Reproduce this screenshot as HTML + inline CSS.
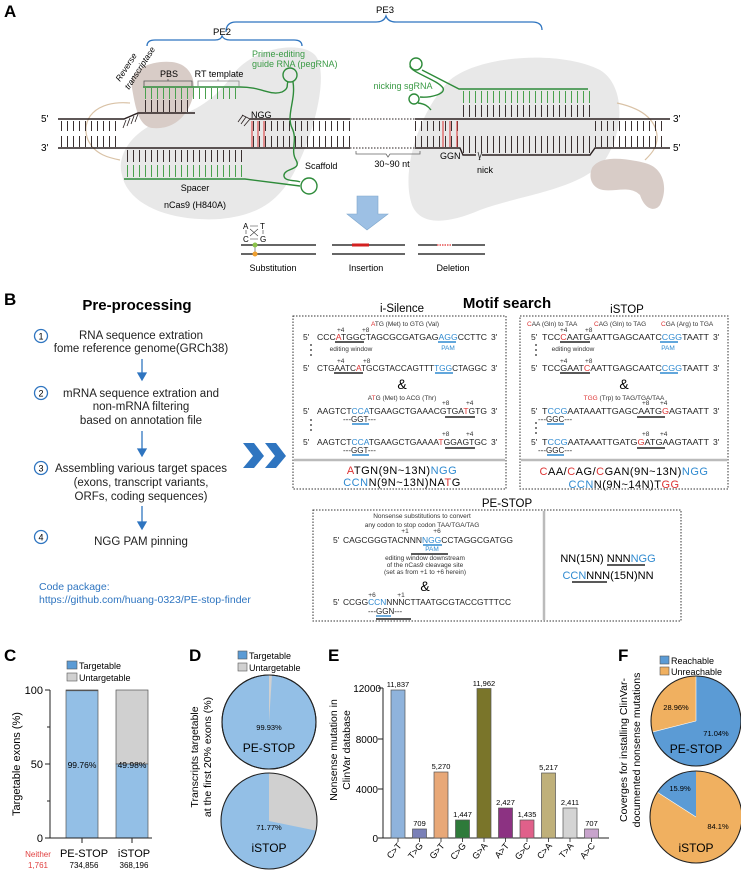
<!DOCTYPE html>
<html><head><meta charset="utf-8"><style>
html,body{margin:0;padding:0;background:#fff}
svg{display:block}
text{font-family:"Liberation Sans",Arial,sans-serif}
</style></head><body>
<svg width="741" height="872" viewBox="0 0 741 872" xmlns="http://www.w3.org/2000/svg">
<defs>
<pattern id="rk" width="6" height="200" patternUnits="userSpaceOnUse"><rect x="1" y="0" width="1" height="200" fill="#3a3030"/></pattern>
<pattern id="rg" width="6" height="200" patternUnits="userSpaceOnUse"><rect x="1" y="0" width="1" height="200" fill="#4aa04e"/></pattern>
</defs>

<!-- ================= PANEL A ================= -->
<text x="4" y="17" font-size="17" font-weight="bold">A</text>
<!-- braces -->
<path d="M226,32 Q226,22 236,22 L376,22 Q384,22 386,16 Q388,22 396,22 L532,22 Q542,22 542,30" fill="none" stroke="#2f75c0" stroke-width="1.3"/>
<text x="385" y="13" font-size="9.5" text-anchor="middle">PE3</text>
<path d="M147,46 Q147,40 155,40 L215,40 Q221,40 222,36 Q224,40 230,40 L294,40 Q302,40 302,46" fill="none" stroke="#2f75c0" stroke-width="1.3"/>
<text x="222" y="35" font-size="9.5" text-anchor="middle">PE2</text>

<!-- gray blobs -->
<path d="M122,175 C115,150 140,125 170,118 C195,112 215,100 235,72 C255,48 300,40 315,55 C328,70 318,120 300,160 C285,195 265,215 220,219 C170,222 128,205 122,175 Z" fill="#e8e8e8"/>
<path d="M412,205 C400,170 420,110 450,80 C480,55 560,50 600,70 C625,85 625,130 605,160 C580,190 520,195 480,210 C445,225 420,225 412,205 Z" fill="#e8e8e8"/>
<!-- tan tethers -->
<path d="M130,103 C95,100 80,120 88,140 C95,155 110,158 120,160" fill="none" stroke="#d9c2a6" stroke-width="1.2"/>
<path d="M617,103 C640,108 655,118 657,135 C658,148 650,155 645,160" fill="none" stroke="#d9c2a6" stroke-width="1.2"/>
<!-- brown blobs -->
<path d="M132,88 C128,70 150,60 172,62 C190,64 198,80 192,100 C186,118 172,130 152,128 C138,126 135,105 132,88 Z" fill="#d8ccc7"/>
<path d="M592,168 C600,155 625,158 645,163 C665,168 668,190 660,205 C655,212 645,210 640,195 C630,185 615,192 603,190 C592,188 588,178 592,168 Z" fill="#d8ccc7"/>

<!-- left duplex -->
<rect x="58" y="121" width="62" height="10" fill="url(#rk)"/>
<rect x="58" y="136" width="62" height="11" fill="url(#rk)"/>
<rect x="250" y="121" width="100" height="10" fill="url(#rk)"/>
<rect x="250" y="136" width="100" height="11" fill="url(#rk)"/>
<rect x="251" y="121" width="15" height="26" fill="#fff" opacity="0"/>
<line x1="252" y1="121" x2="252" y2="147" stroke="#d33" stroke-width="1"/>
<line x1="258" y1="121" x2="258" y2="147" stroke="#d33" stroke-width="1"/>
<line x1="264" y1="121" x2="264" y2="147" stroke="#d33" stroke-width="1"/>
<path d="M58,119 L124,119 L138,113 L195,113" fill="none" stroke="#2a2020" stroke-width="1.4"/>
<path d="M126,120 l-3,8 M130,118 l-3,8 M134,116 l-3,8 M138,114 l-3,8" stroke="#2a2020" stroke-width="0.8"/>
<path d="M250,119 L350,119" stroke="#2a2020" stroke-width="1.4"/>
<path d="M250,119 l-8,-4 M250,119 l-6,7 M246,117 l-5,7 M243,115 l-5,7" stroke="#2a2020" stroke-width="0.8"/>
<path d="M58,148 L350,148" stroke="#2a2020" stroke-width="1.4"/>
<path d="M350,119 L415,119 M350,148 L415,148" stroke="#2a2020" stroke-width="1" stroke-dasharray="1.5,1.5"/>
<!-- PBS region -->
<rect x="143" y="100" width="50" height="12" fill="url(#rk)"/>
<rect x="143" y="88" width="98" height="11" fill="url(#rg)"/>
<path d="M143,87 L240,87 C262,87 270,96 282,92 C290,88 286,84 288,82" fill="none" stroke="#2e8b3a" stroke-width="1.4"/>
<circle cx="290" cy="75" r="7" fill="none" stroke="#2e8b3a" stroke-width="1.4"/>
<path d="M293,82 C296,100 286,115 292,128 C298,140 290,150 296,160 C302,170 285,168 284,175 C283,182 298,180 300,182" fill="none" stroke="#2e8b3a" stroke-width="1.4"/>
<!-- spacer -->
<rect x="124" y="150" width="122" height="12" fill="url(#rk)"/>
<rect x="124" y="165" width="122" height="12" fill="url(#rg)"/>
<path d="M124,179 L245,179 L300,186" fill="none" stroke="#2e8b3a" stroke-width="1.4"/>
<circle cx="309" cy="186" r="8" fill="none" stroke="#2e8b3a" stroke-width="1.4"/>
<!-- PBS/RT braces -->
<path d="M144,86 L144,81 L192,81 L192,86 M168,81 L168,79" fill="none" stroke="#555" stroke-width="0.8"/>
<path d="M198,86 L198,81 L239,81 L239,86 M218,81 L218,79" fill="none" stroke="#888" stroke-width="0.8"/>
<text x="169" y="77" font-size="9" text-anchor="middle">PBS</text>
<text x="219" y="77" font-size="9" text-anchor="middle">RT template</text>
<text transform="translate(120,82) rotate(-57)" font-size="8.5" font-style="italic">Reverse</text>
<text transform="translate(129,90) rotate(-57)" font-size="8.5" font-style="italic">transcriptase</text>
<text x="252" y="57" font-size="9" fill="#3a9a45">Prime-editing</text>
<text x="252" y="67" font-size="9" fill="#3a9a45">guide RNA (pegRNA)</text>
<text x="251" y="118" font-size="9">NGG</text>
<text x="305" y="169" font-size="9">Scaffold</text>
<text x="195" y="191" font-size="9" text-anchor="middle">Spacer</text>
<text x="195" y="208" font-size="9" text-anchor="middle">nCas9 (H840A)</text>
<path d="M356,151 L356,154 L386,154 L388,157 L390,154 L420,154 L420,151" fill="none" stroke="#666" stroke-width="0.8"/>
<text x="392" y="167" font-size="9" text-anchor="middle">30~90 nt</text>

<!-- right duplex -->
<rect x="415" y="121" width="46" height="10" fill="url(#rk)"/>
<rect x="415" y="136" width="46" height="11" fill="url(#rk)"/>
<rect x="592" y="121" width="72" height="10" fill="url(#rk)"/>
<rect x="592" y="136" width="72" height="11" fill="url(#rk)"/>
<rect x="462" y="136" width="128" height="17" fill="url(#rk)"/>
<line x1="443" y1="121" x2="443" y2="147" stroke="#d33"/>
<line x1="450" y1="121" x2="450" y2="147" stroke="#d33"/>
<line x1="457" y1="121" x2="457" y2="147" stroke="#d33"/>
<rect x="462" y="105" width="128" height="12" fill="url(#rk)"/>
<rect x="462" y="91" width="128" height="12" fill="url(#rg)"/>
<path d="M415,119 L670,119" stroke="#2a2020" stroke-width="1.4"/>
<path d="M415,148 L460,148 L463,155 L476,155 M482,155 L590,155 L595,148 L670,148" fill="none" stroke="#2a2020" stroke-width="1.4"/>
<path d="M588,89 L459,89 L422,70" fill="none" stroke="#2e8b3a" stroke-width="1.4"/>
<circle cx="416" cy="64" r="6" fill="none" stroke="#2e8b3a" stroke-width="1.4"/>
<path d="M410,66 C410,72 438,80 443,88 C446,94 430,98 420,97" fill="none" stroke="#2e8b3a" stroke-width="1.4"/>
<circle cx="414" cy="99" r="5" fill="none" stroke="#2e8b3a" stroke-width="1.4"/>
<path d="M418,103 C425,104 428,106 431,110" fill="none" stroke="#2e8b3a" stroke-width="1.4"/>
<text x="403" y="89" font-size="9" fill="#3a9a45" text-anchor="middle">nicking sgRNA</text>
<text x="440" y="159" font-size="9">GGN</text>
<path d="M478,152 l2,8 M482,152 l-3,8" stroke="#333" stroke-width="0.8"/>
<text x="477" y="173" font-size="9">nick</text>
<text x="41" y="122" font-size="10">5'</text>
<text x="41" y="151" font-size="10">3'</text>
<text x="673" y="122" font-size="10">3'</text>
<text x="673" y="151" font-size="10">5'</text>

<!-- blue arrow -->
<path d="M357,196 L378,196 L378,214 L388,214 L367,230 L347,214 L357,214 Z" fill="#9dc0e4" stroke="#7ea6cc" stroke-width="0.6"/>
<!-- outcomes -->
<text x="243" y="229" font-size="8">A</text><text x="260" y="229" font-size="8">T</text>
<text x="243" y="242" font-size="8">C</text><text x="260" y="242" font-size="8">G</text>
<path d="M250,226 L258,226 M250,239 L258,239 M246,230 L246,234 M263,230 L263,234 M250,229 L258,236 M258,229 L250,236" stroke="#333" stroke-width="0.6"/>
<line x1="241" y1="245" x2="316" y2="245" stroke="#333" stroke-width="1.6"/>
<line x1="241" y1="254" x2="316" y2="254" stroke="#333" stroke-width="1.6"/>
<line x1="255" y1="245" x2="255" y2="254" stroke="#888" stroke-width="1"/>
<circle cx="255" cy="245" r="2.5" fill="#8bc34a"/>
<circle cx="255" cy="254" r="2.5" fill="#f0a030"/>
<line x1="332" y1="245" x2="405" y2="245" stroke="#333" stroke-width="1.6"/>
<line x1="332" y1="254" x2="405" y2="254" stroke="#333" stroke-width="1.6"/>
<line x1="352" y1="245" x2="369" y2="245" stroke="#d32020" stroke-width="3"/>
<line x1="418" y1="245" x2="485" y2="245" stroke="#333" stroke-width="1.6"/>
<line x1="418" y1="254" x2="485" y2="254" stroke="#333" stroke-width="1.6"/>
<line x1="437" y1="245" x2="452" y2="245" stroke="#fff" stroke-width="2"/>
<line x1="437" y1="245" x2="452" y2="245" stroke="#e03030" stroke-width="1.2" stroke-dasharray="1.5,1"/>
<text x="273" y="271" font-size="9" text-anchor="middle">Substitution</text>
<text x="366" y="271" font-size="9" text-anchor="middle">Insertion</text>
<text x="453" y="271" font-size="9" text-anchor="middle">Deletion</text>

<!-- ================= PANEL B ================= -->
<text x="4" y="305" font-size="17" font-weight="bold">B</text>
<text x="137" y="310" font-size="15" font-weight="bold" text-anchor="middle">Pre-processing</text>
<g fill="none" stroke="#2f75c0" stroke-width="1.3">
<circle cx="41" cy="336" r="6.5"/><circle cx="41" cy="393" r="6.5"/><circle cx="41" cy="468" r="6.5"/><circle cx="41" cy="537" r="6.5"/>
</g>
<g font-size="9" text-anchor="middle"><text x="41" y="339.5">1</text><text x="41" y="396.5">2</text><text x="41" y="471.5">3</text><text x="41" y="540.5">4</text></g>
<g font-size="11.5" text-anchor="middle" fill="#222">
<text x="141" y="339">RNA sequence extration</text>
<text x="141" y="352">fome reference genome(GRCh38)</text>
<text x="141" y="397">mRNA sequence extration and</text>
<text x="141" y="410">non-mRNA filtering</text>
<text x="141" y="424">based on annotation file</text>
<text x="141" y="472">Assembling various target spaces</text>
<text x="141" y="486">(exons, transcript variants,</text>
<text x="141" y="500">ORFs, coding sequences)</text>
<text x="141" y="545">NGG PAM pinning</text>
</g>
<g stroke="#2f75c0" stroke-width="1.3" fill="#2f75c0">
<line x1="142" y1="359" x2="142" y2="376"/><path d="M138,373 L142,380 L146,373 Z"/>
<line x1="142" y1="431" x2="142" y2="452"/><path d="M138,449 L142,456 L146,449 Z"/>
<line x1="142" y1="506" x2="142" y2="525"/><path d="M138,522 L142,529 L146,522 Z"/>
</g>
<text x="39" y="590" font-size="10.5" fill="#2f75c0">Code package:</text>
<text x="39" y="603" font-size="10.5" fill="#2f75c0">https://github.com/huang-0323/PE-stop-finder</text>
<path d="M243,443 L254,443 L264,456 L254,468 L243,468 L253,456 Z" fill="#2f75c0"/>
<path d="M265,443 L276,443 L286,456 L276,468 L265,468 L275,456 Z" fill="#2f75c0"/>

<text x="507" y="308" font-size="15" font-weight="bold" text-anchor="middle">Motif search</text>
<text x="402" y="312" font-size="11.5" text-anchor="middle">i-Silence</text>
<text x="627" y="313" font-size="11.5" text-anchor="middle">iSTOP</text>

<!-- i-Silence box -->
<rect x="293" y="316" width="213" height="173" fill="none" stroke="#333" stroke-width="1" stroke-dasharray="1.5,1.5"/>
<line x1="294" y1="460" x2="505" y2="460" stroke="#bbb" stroke-width="2.5"/>
<g font-size="6.5" fill="#333">
<text x="405" y="326" text-anchor="middle"><tspan fill="#d33">A</tspan>TG (Met) to GTG (Val)</text>
<text x="337" y="332">+4</text><text x="362" y="332">+8</text>
<text x="351" y="351" text-anchor="middle">editing window</text>
<text x="448" y="350" text-anchor="middle" fill="#2f8ad0">PAM</text>
<text x="337" y="363">+4</text><text x="363" y="363">+8</text>
<text x="402" y="400" text-anchor="middle">A<tspan fill="#d33">T</tspan>G (Met) to ACG (Thr)</text>
<text x="442" y="405">+8</text><text x="466" y="405">+4</text>
<text x="442" y="436">+8</text><text x="466" y="436">+4</text>
</g>
<g font-size="8.5" fill="#222">
<text x="303" y="340">5'</text><text x="491" y="340">3'</text>
<text x="317" y="340" textLength="170" lengthAdjust="spacingAndGlyphs">CCC<tspan fill="#d33">A</tspan>TGGCTAGCGCGATGAG<tspan fill="#2f8ad0">AGG</tspan>CCTTC</text>
<text x="303" y="371">5'</text><text x="491" y="371">3'</text>
<text x="317" y="371" textLength="170" lengthAdjust="spacingAndGlyphs">CTGAATC<tspan fill="#d33">A</tspan>TGCGTACCAGTTT<tspan fill="#2f8ad0">TGG</tspan>CTAGGC</text>
<text x="303" y="414">5'</text><text x="491" y="414">3'</text>
<text x="317" y="414" textLength="170" lengthAdjust="spacingAndGlyphs">AAGTCT<tspan fill="#2f8ad0">CCA</tspan>TGAAGCTGAAACGTGA<tspan fill="#d33">T</tspan>GTG</text>
<text x="303" y="445">5'</text><text x="491" y="445">3'</text>
<text x="317" y="445" textLength="170" lengthAdjust="spacingAndGlyphs">AAGTCT<tspan fill="#2f8ad0">CCA</tspan>TGAAGCTGAAAA<tspan fill="#d33">T</tspan>GGAGTGC</text>
<text x="343" y="422" font-size="8">---<tspan fill="#222">GGT</tspan>---</text>
<text x="343" y="453" font-size="8">---GGT---</text>
</g>
<g stroke="#222" stroke-width="1.6">
<line x1="335" y1="342" x2="364" y2="342"/><line x1="334" y1="373" x2="363" y2="373"/>
<line x1="445" y1="417" x2="475" y2="417"/><line x1="445" y1="448" x2="475" y2="448"/>
</g>
<g stroke="#2f8ad0" stroke-width="1.4">
<line x1="438" y1="342" x2="456" y2="342"/><line x1="435" y1="373" x2="453" y2="373"/>
<line x1="352" y1="424" x2="369" y2="424"/><line x1="352" y1="455" x2="369" y2="455"/>
</g>
<g fill="#222"><circle cx="311" cy="345" r="0.9"/><circle cx="311" cy="350" r="0.9"/><circle cx="311" cy="355" r="0.9"/>
<circle cx="311" cy="420" r="0.9"/><circle cx="311" cy="425" r="0.9"/><circle cx="311" cy="430" r="0.9"/></g>
<text x="402" y="389" font-size="14" text-anchor="middle">&amp;</text>
<text x="402" y="474" font-size="11" text-anchor="middle" letter-spacing="0.5"><tspan fill="#d33">A</tspan>TGN(9N~13N)<tspan fill="#2f8ad0">NGG</tspan></text>
<text x="402" y="486" font-size="11" text-anchor="middle" letter-spacing="0.5"><tspan fill="#2f8ad0">CCN</tspan>N(9N~13N)NA<tspan fill="#d33">T</tspan>G</text>

<!-- iSTOP box -->
<rect x="520" y="316" width="208" height="173" fill="none" stroke="#333" stroke-width="1" stroke-dasharray="1.5,1.5"/>
<line x1="521" y1="460" x2="727" y2="460" stroke="#bbb" stroke-width="2.5"/>
<g font-size="6.5" fill="#333">
<text x="527" y="326"><tspan fill="#d33">C</tspan>AA (Gln) to TAA</text>
<text x="594" y="326"><tspan fill="#d33">C</tspan>AG (Gln) to TAG</text>
<text x="661" y="326"><tspan fill="#d33">C</tspan>GA (Arg) to TGA</text>
<text x="560" y="332">+4</text><text x="585" y="332">+8</text>
<text x="573" y="351" text-anchor="middle">editing window</text>
<text x="668" y="350" text-anchor="middle" fill="#2f8ad0">PAM</text>
<text x="560" y="363">+4</text><text x="585" y="363">+8</text>
<text x="624" y="400" text-anchor="middle"><tspan fill="#d33">TGG</tspan> (Trp) to TAG/TGA/TAA</text>
<text x="642" y="405">+8</text><text x="660" y="405">+4</text>
<text x="642" y="436">+8</text><text x="660" y="436">+4</text>
</g>
<g font-size="8.5" fill="#222">
<text x="531" y="340">5'</text><text x="713" y="340">3'</text>
<text x="542" y="340" textLength="167" lengthAdjust="spacingAndGlyphs">TCC<tspan fill="#d33">C</tspan>AATGAATTGAGCAATC<tspan fill="#2f8ad0">CGG</tspan>TAATT</text>
<text x="531" y="371">5'</text><text x="713" y="371">3'</text>
<text x="542" y="371" textLength="167" lengthAdjust="spacingAndGlyphs">TCCGAAT<tspan fill="#d33">C</tspan>AATTGAGCAATC<tspan fill="#2f8ad0">CGG</tspan>TAATT</text>
<text x="531" y="414">5'</text><text x="713" y="414">3'</text>
<text x="542" y="414" textLength="167" lengthAdjust="spacingAndGlyphs">T<tspan fill="#2f8ad0">CCG</tspan>AATAAATTGAGCAATG<tspan fill="#d33">G</tspan>AGTAATT</text>
<text x="531" y="445">5'</text><text x="713" y="445">3'</text>
<text x="542" y="445" textLength="167" lengthAdjust="spacingAndGlyphs">T<tspan fill="#2f8ad0">CCG</tspan>AATAAATTGATG<tspan fill="#d33">G</tspan>ATGAAGTAATT</text>
<text x="538" y="422" font-size="8">---GGC---</text>
<text x="538" y="453" font-size="8">---GGC---</text>
</g>
<g stroke="#222" stroke-width="1.6">
<line x1="560" y1="342" x2="590" y2="342"/><line x1="560" y1="373" x2="590" y2="373"/>
<line x1="637" y1="417" x2="665" y2="417"/><line x1="637" y1="448" x2="665" y2="448"/>
</g>
<g stroke="#2f8ad0" stroke-width="1.4">
<line x1="660" y1="342" x2="678" y2="342"/><line x1="660" y1="373" x2="678" y2="373"/>
<line x1="547" y1="424" x2="564" y2="424"/><line x1="547" y1="455" x2="564" y2="455"/>
</g>
<g fill="#222"><circle cx="536" cy="345" r="0.9"/><circle cx="536" cy="350" r="0.9"/><circle cx="536" cy="355" r="0.9"/>
<circle cx="536" cy="423" r="0.9"/><circle cx="536" cy="428" r="0.9"/><circle cx="536" cy="433" r="0.9"/></g>
<text x="624" y="389" font-size="14" text-anchor="middle">&amp;</text>
<text x="624" y="475" font-size="11" text-anchor="middle" letter-spacing="0.5"><tspan fill="#d33">C</tspan>AA/<tspan fill="#d33">C</tspan>AG/<tspan fill="#d33">C</tspan>GAN(9N~13N)<tspan fill="#2f8ad0">NGG</tspan></text>
<text x="624" y="488" font-size="11" text-anchor="middle" letter-spacing="0.5"><tspan fill="#2f8ad0">CCN</tspan>N(9N~14N)T<tspan fill="#d33">GG</tspan></text>

<!-- PE-STOP box -->
<text x="507" y="507" font-size="11.5" text-anchor="middle">PE-STOP</text>
<rect x="313" y="510" width="368" height="111" fill="none" stroke="#333" stroke-width="1" stroke-dasharray="1.5,1.5"/>
<line x1="544" y1="511" x2="544" y2="620" stroke="#bbb" stroke-width="2.5"/>
<g font-size="6.5" fill="#333" text-anchor="middle">
<text x="422" y="518">Nonsense substitutions to convert</text>
<text x="422" y="527">any codon to stop codon TAA/TGA/TAG</text>
<text x="405" y="533">+1</text><text x="437" y="533">+6</text>
<text x="432" y="551" fill="#2f8ad0">PAM</text>
<text x="425" y="560">editing window downstream</text>
<text x="425" y="567">of the nCas9 cleavage site</text>
<text x="425" y="574">(set as from +1 to +6 herein)</text>
<text x="372" y="597">+6</text><text x="401" y="597">+1</text>
</g>
<g font-size="8.5" fill="#222">
<text x="333" y="543">5'</text>
<text x="343" y="543" textLength="170" lengthAdjust="spacingAndGlyphs">CAGCGGGTACNNN<tspan fill="#2f8ad0">NGG</tspan>CCTAGGCGATGG</text>
<text x="333" y="605">5'</text>
<text x="343" y="605" textLength="168" lengthAdjust="spacingAndGlyphs">CCGG<tspan fill="#2f8ad0">CCN</tspan>NNNCTTAATGCGTACCGTTTCC</text>
<text x="368" y="614" font-size="8">---GGN---</text>
</g>
<line x1="423" y1="545" x2="442" y2="545" stroke="#2f8ad0" stroke-width="1.4"/>
<line x1="411" y1="554" x2="448" y2="554" stroke="#222" stroke-width="1.6"/>
<line x1="376" y1="616" x2="391" y2="616" stroke="#2f8ad0" stroke-width="1.4"/>
<line x1="376" y1="619" x2="411" y2="619" stroke="#222" stroke-width="1.6"/>
<text x="425" y="591" font-size="14" text-anchor="middle">&amp;</text>
<text x="608" y="562" font-size="11" text-anchor="middle">NN(15N) NNN<tspan fill="#2f8ad0">NGG</tspan></text>
<text x="608" y="579" font-size="11" text-anchor="middle"><tspan fill="#2f8ad0">CCN</tspan>NNN(15N)NN</text>
<line x1="607" y1="565" x2="645" y2="565" stroke="#222" stroke-width="1.6"/>
<line x1="572" y1="582" x2="607" y2="582" stroke="#222" stroke-width="1.6"/>

<!-- ================= PANEL C ================= -->
<text x="4" y="661" font-size="17" font-weight="bold">C</text>
<rect x="67" y="661" width="10" height="8" fill="#5b9bd5" stroke="#555" stroke-width="0.6"/>
<text x="79" y="669" font-size="9">Targetable</text>
<rect x="67" y="673" width="10" height="8" fill="#d0d0d0" stroke="#555" stroke-width="0.6"/>
<text x="79" y="681" font-size="9">Untargetable</text>
<rect x="66" y="690" width="32" height="148" fill="#93bfe6" stroke="#555" stroke-width="0.7"/>
<line x1="66" y1="690.5" x2="98" y2="690.5" stroke="#555" stroke-width="1.2"/>
<rect x="116" y="690" width="32" height="74" fill="#d0d0d0" stroke="#555" stroke-width="0.7"/>
<rect x="116" y="764" width="32" height="74" fill="#93bfe6" stroke="#555" stroke-width="0.7"/>
<path d="M50,690 L50,838 L152,838 M45,690 L50,690 M45,764 L50,764 M45,838 L50,838 M47,727 L50,727 M47,801 L50,801 M82,838 L82,843 M132,838 L132,843" fill="none" stroke="#222" stroke-width="1"/>
<g font-size="11" text-anchor="end"><text x="43" y="694">100</text><text x="43" y="768">50</text><text x="43" y="842">0</text></g>
<text transform="translate(20,764) rotate(-90)" font-size="11" text-anchor="middle">Targetable exons (%)</text>
<text x="82" y="768" font-size="8.5" text-anchor="middle">99.76%</text>
<text x="132" y="768" font-size="8.5" text-anchor="middle">49.98%</text>
<text x="84" y="857" font-size="11" text-anchor="middle">PE-STOP</text>
<text x="134" y="857" font-size="11" text-anchor="middle">iSTOP</text>
<text x="84" y="868" font-size="8" text-anchor="middle">734,856</text>
<text x="134" y="868" font-size="8" text-anchor="middle">368,196</text>
<text x="38" y="857" font-size="8" fill="#e04040" text-anchor="middle">Neither</text>
<text x="38" y="868" font-size="8" fill="#e04040" text-anchor="middle">1,761</text>

<!-- ================= PANEL D ================= -->
<text x="189" y="661" font-size="17" font-weight="bold">D</text>
<rect x="238" y="651" width="9" height="8" fill="#5b9bd5" stroke="#555" stroke-width="0.6"/>
<text x="249" y="659" font-size="9">Targetable</text>
<rect x="238" y="663" width="9" height="8" fill="#d0d0d0" stroke="#555" stroke-width="0.6"/>
<text x="249" y="671" font-size="9">Untargetable</text>
<text transform="translate(198,757) rotate(-90)" font-size="10.5" text-anchor="middle">Transcripts targetable</text>
<text transform="translate(211,757) rotate(-90)" font-size="10.5" text-anchor="middle">at the first 20% exons (%)</text>
<circle cx="269" cy="722" r="47" fill="#93bfe6" stroke="#222" stroke-width="1.1"/>
<path d="M269,722 L269,675 A47,47 0 0 1 272,675.1 Z" fill="#d0d0d0"/>
<circle cx="269" cy="722" r="47" fill="none" stroke="#222" stroke-width="1.1"/>
<text x="269" y="730" font-size="7.5" text-anchor="middle">99.93%</text>
<text x="269" y="752" font-size="12" text-anchor="middle">PE-STOP</text>
<circle cx="269" cy="821" r="48" fill="#93bfe6"/>
<path d="M269,821 L269,773 A48,48 0 0 1 316,830.6 Z" fill="#d0d0d0"/>
<circle cx="269" cy="821" r="48" fill="none" stroke="#222" stroke-width="1.1"/>
<text x="269" y="830" font-size="7.5" text-anchor="middle">71.77%</text>
<text x="269" y="852" font-size="12" text-anchor="middle">iSTOP</text>

<!-- ================= PANEL E ================= -->
<text x="328" y="661" font-size="17" font-weight="bold">E</text>
<text transform="translate(337,750) rotate(-90)" font-size="10.5" text-anchor="middle">Nonsense mutation in</text>
<text transform="translate(350,750) rotate(-90)" font-size="10.5" text-anchor="middle">ClinVar database</text>
<path d="M383,688 L383,838 L609,838 M378,688 L383,688 M378,739 L383,739 M378,789 L383,789 M378,838 L383,838" fill="none" stroke="#222" stroke-width="1"/>
<g font-size="10" text-anchor="end"><text x="381" y="692">12000</text><text x="378" y="743">8000</text><text x="378" y="793">4000</text><text x="378" y="842">0</text></g>
<g stroke="#555" stroke-width="0.7">
<rect x="391" y="690" width="14" height="148" fill="#8fb3dc"/>
<rect x="412.5" y="829" width="14" height="9" fill="#7a80b8"/>
<rect x="434" y="772" width="14" height="66" fill="#e8a878"/>
<rect x="455.5" y="820" width="14" height="18" fill="#2e7a3a"/>
<rect x="477" y="688.5" width="14" height="149.5" fill="#7a752a"/>
<rect x="498.5" y="808" width="14" height="30" fill="#8c3282"/>
<rect x="520" y="820" width="14" height="18" fill="#e0608a"/>
<rect x="541.5" y="773" width="14" height="65" fill="#bfb07a"/>
<rect x="563" y="808" width="14" height="30" fill="#d4d4d4"/>
<rect x="584.5" y="829" width="14" height="9" fill="#c8a4cc"/>
</g>
<g font-size="7.5" text-anchor="middle">
<text x="398" y="687">11,837</text><text x="419.5" y="826">709</text><text x="441" y="769">5,270</text>
<text x="462.5" y="817">1,447</text><text x="484" y="686">11,962</text><text x="505.5" y="805">2,427</text>
<text x="527" y="817">1,435</text><text x="548.5" y="770">5,217</text><text x="570" y="805">2,411</text>
<text x="591.5" y="826">707</text>
</g>
<g font-size="9" text-anchor="end">
<text transform="translate(402,846) rotate(-50)">C&gt;T</text>
<text transform="translate(423.5,846) rotate(-50)">T&gt;G</text>
<text transform="translate(445,846) rotate(-50)">G&gt;T</text>
<text transform="translate(466.5,846) rotate(-50)">C&gt;G</text>
<text transform="translate(488,846) rotate(-50)">G&gt;A</text>
<text transform="translate(509.5,846) rotate(-50)">A&gt;T</text>
<text transform="translate(531,846) rotate(-50)">G&gt;C</text>
<text transform="translate(552.5,846) rotate(-50)">C&gt;A</text>
<text transform="translate(574,846) rotate(-50)">T&gt;A</text>
<text transform="translate(595.5,846) rotate(-50)">A&gt;C</text>
</g>
<g stroke="#222" stroke-width="0.8"><line x1="398" y1="838" x2="398" y2="842"/><line x1="419.5" y1="838" x2="419.5" y2="842"/><line x1="441" y1="838" x2="441" y2="842"/><line x1="462.5" y1="838" x2="462.5" y2="842"/><line x1="484" y1="838" x2="484" y2="842"/><line x1="505.5" y1="838" x2="505.5" y2="842"/><line x1="527" y1="838" x2="527" y2="842"/><line x1="548.5" y1="838" x2="548.5" y2="842"/><line x1="570" y1="838" x2="570" y2="842"/><line x1="591.5" y1="838" x2="591.5" y2="842"/></g>

<!-- ================= PANEL F ================= -->
<text x="618" y="661" font-size="17" font-weight="bold">F</text>
<rect x="660" y="656" width="9" height="8" fill="#5b9bd5" stroke="#555" stroke-width="0.6"/>
<text x="671" y="664" font-size="9">Reachable</text>
<rect x="660" y="667" width="9" height="8" fill="#f0b060" stroke="#555" stroke-width="0.6"/>
<text x="671" y="675" font-size="9">Unreachable</text>
<text transform="translate(627,750) rotate(-90)" font-size="10.5" text-anchor="middle">Coverges for installing ClinVar-</text>
<text transform="translate(640,750) rotate(-90)" font-size="10.5" text-anchor="middle">documented nonsense mutations</text>
<path d="M696,721 L696,676 A45,45 0 1 1 652.4,732.1 Z" fill="#5b9bd5"/>
<path d="M696,721 L652.4,732.1 A45,45 0 0 1 696,676 Z" fill="#f0b060"/>
<line x1="696" y1="721" x2="696" y2="676" stroke="#fff" stroke-width="0.6"/>
<line x1="696" y1="721" x2="652.4" y2="732.1" stroke="#fff" stroke-width="0.6"/>
<circle cx="696" cy="721" r="45" fill="none" stroke="#222" stroke-width="1.1"/>
<text x="676" y="710" font-size="7.5" text-anchor="middle">28.96%</text>
<text x="716" y="736" font-size="7.5" text-anchor="middle">71.04%</text>
<text x="696" y="753" font-size="12" text-anchor="middle">PE-STOP</text>
<path d="M696,817 L657.3,792.1 A46,46 0 0 1 696,771 Z" fill="#5b9bd5"/>
<path d="M696,817 L696,771 A46,46 0 1 1 657.3,792.1 Z" fill="#f0b060"/>
<line x1="696" y1="817" x2="657.3" y2="792.1" stroke="#fff" stroke-width="0.6"/>
<circle cx="696" cy="817" r="46" fill="none" stroke="#222" stroke-width="1.1"/>
<text x="680" y="791" font-size="7.5" text-anchor="middle">15.9%</text>
<text x="718" y="829" font-size="7.5" text-anchor="middle">84.1%</text>
<text x="696" y="852" font-size="12" text-anchor="middle">iSTOP</text>
</svg>
</body></html>
